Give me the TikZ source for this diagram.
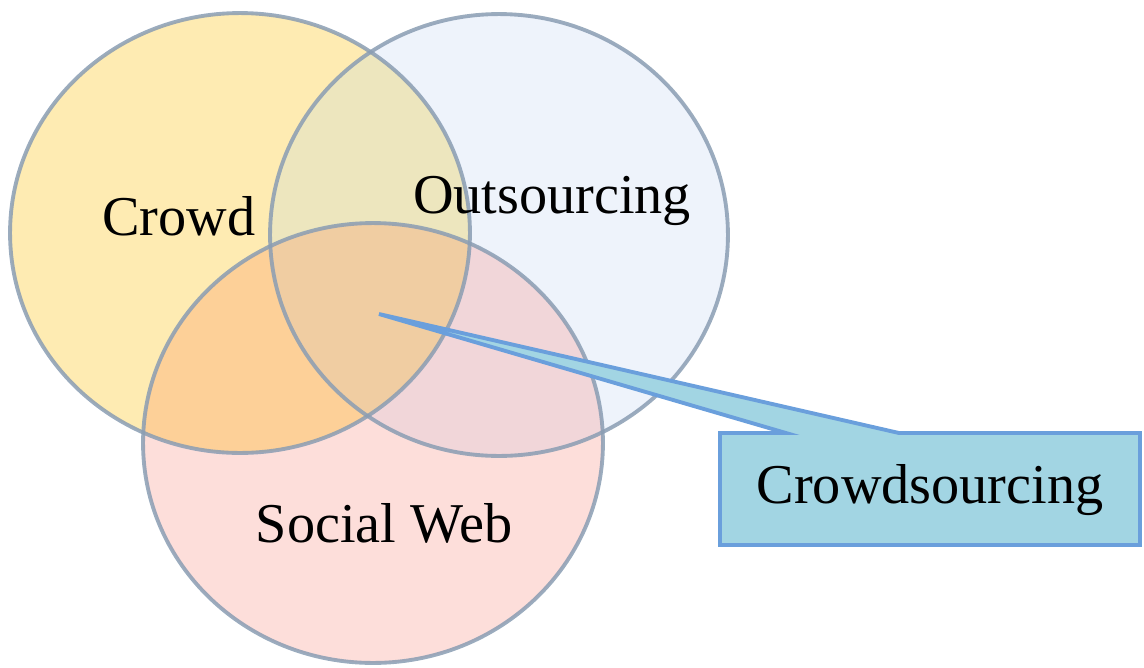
\documentclass[tikz,border=0pt]{standalone}
\usepackage{fontspec}
\setmainfont{Liberation Serif}
\usepackage{tikz}
\usetikzlibrary{positioning}

\definecolor{crowdcol}{HTML}{FEEBB2}
\definecolor{outcol}{HTML}{EEF3FB}
\definecolor{socialcol}{HTML}{FDDEDA}
\definecolor{cocol}{HTML}{EDE6BE}
\definecolor{cscol}{HTML}{FDD098}
\definecolor{oscol}{HTML}{F1D6D9}
\definecolor{allcol}{HTML}{F0CDA2}
\definecolor{rimcol}{HTML}{8A9DB3}
\definecolor{boxcol}{HTML}{A2D5E3}
\definecolor{boxrim}{HTML}{6A9FDC}

\newcommand{\crowdset}{(240,233) ellipse [x radius=4.6cm, y radius=4.4cm]}
\newcommand{\outset}{(499,235) ellipse [x radius=4.58cm, y radius=4.42cm]}
\newcommand{\socialset}{(373,443) ellipse [x radius=4.6cm, y radius=4.4cm]}

\begin{document}
\begin{tikzpicture}[x=0.02cm, y=-0.02cm,
  rim/.style={draw=rimcol, draw opacity=0.85, line width=2.2pt},
  label/.style={font=\fontsize{32}{38}\selectfont, anchor=base, inner sep=0pt},
  callout/.style={fill=boxcol, draw=boxrim, line width=2.2pt, line join=miter}]
\useasboundingbox (0,0) rectangle (1144,667);

% sets
\fill[crowdcol] \crowdset;
\fill[outcol] \outset;
\fill[socialcol] \socialset;
\begin{scope}
  \clip \crowdset;
  \fill[cocol] \outset;
  \fill[cscol] \socialset;
\end{scope}
\begin{scope}
  \clip \outset;
  \fill[oscol] \socialset;
\end{scope}
\begin{scope}
  \clip \crowdset;
  \clip \outset;
  \fill[allcol] \socialset;
\end{scope}
\draw[rim] \crowdset;
\draw[rim] \outset;
\draw[rim] \socialset;

\node[label] (crowd) at (179,235) {Crowd};
\node[label] (outsourcing) at (552,213) {Outsourcing};
\node[label] (social) at (384,542) {Social Web};

% callout
\coordinate (tip) at (379,314);
\coordinate (bnw) at (720,433);
\coordinate (bse) at (1140,545);
\coordinate (wl) at (786,433);
\coordinate (wr) at (899,433);
\filldraw[callout] (bnw) -- (wl) -- (tip) -- (wr) -- (bnw -| bse) -- (bse) -- (bse -| bnw) -- cycle;
\node[label] (crowdsourcing) at (930,503) {Crowdsourcing};
\end{tikzpicture}
\end{document}
